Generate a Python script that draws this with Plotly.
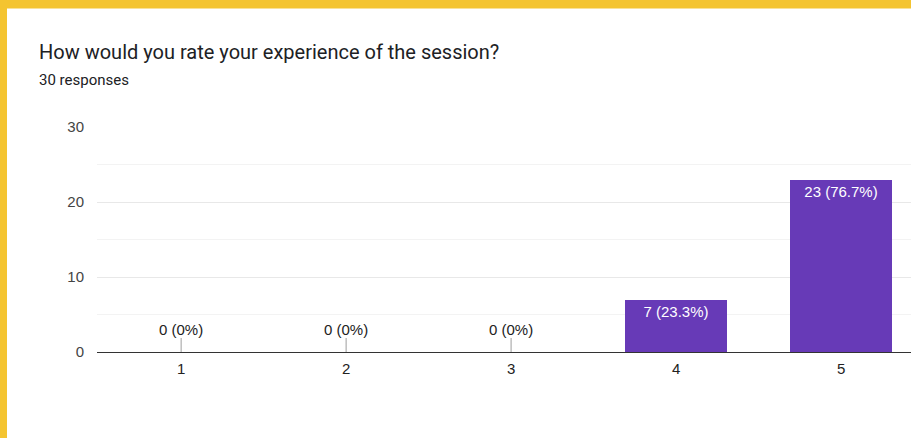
import plotly.graph_objects as go

categories = ["1", "2", "3", "4", "5"]
counts = [0, 0, 0, 7, 23]
total = 30
title_text = "How would you rate your experience of the session?"
subtitle_text = "30 responses"
y_ticks = [0, 10, 20, 30]

W, H = 911, 438
L, R, T, B = 97, 0, 127, 86
pw = W - L - R
ph = H - T - B

def px_x(p):
    return (p - L) / pw

def px_y(p):
    return (H - B - p) / ph

xs = [int(c) for c in categories]
labels = [f"{c} ({c / total * 100:.1f}%)".replace(".0%", "%") for c in counts]

fig = go.Figure()
fig.add_trace(go.Bar(
    x=xs, y=counts, width=0.62,
    marker=dict(color="#673AB7", line=dict(width=0)),
    text=[lab if c > 0 else "" for lab, c in zip(labels, counts)],
    textposition="inside", insidetextanchor="end",
    textfont=dict(color="white", size=15, family="Liberation Sans, Arial"),
    hoverinfo="skip",
))

annotations = []
for x, c, lab in zip(xs, counts, labels):
    if c == 0:
        annotations.append(dict(
            x=x, y=c, xref="x", yref="y", text=lab,
            showarrow=True, arrowhead=0, arrowwidth=1, arrowcolor="#9e9e9e",
            ax=0, ay=-23, standoff=0, startstandoff=0, borderpad=0,
            font=dict(size=15, color="#222222", family="Liberation Sans, Arial"),
        ))

annotations.append(dict(
    x=px_x(37), y=px_y(52), xref="paper", yref="paper", xanchor="left", yanchor="middle",
    text=title_text, showarrow=False,
    font=dict(size=20, color="#202124", family="Roboto"),
))
annotations.append(dict(
    x=px_x(37), y=px_y(80), xref="paper", yref="paper", xanchor="left", yanchor="middle",
    text=subtitle_text, showarrow=False,
    font=dict(size=15, color="#202124", family="Roboto"),
))

shapes = [
    dict(type="rect", xref="paper", yref="paper",
         x0=px_x(0), x1=px_x(7), y0=px_y(H), y1=px_y(0),
         fillcolor="#F4C430", line=dict(width=0), layer="above"),
    dict(type="rect", xref="paper", yref="paper",
         x0=px_x(0), x1=px_x(W), y0=px_y(8.5), y1=px_y(0),
         fillcolor="#F4C430", line=dict(width=0), layer="above"),
]

fig.update_layout(
    width=W, height=H,
    margin=dict(l=L, r=R, t=T, b=B, pad=0),
    paper_bgcolor="white", plot_bgcolor="white",
    showlegend=False,
    annotations=annotations,
    shapes=shapes,
    bargap=0,
)
fig.update_xaxes(
    range=[0.49, 5.424], tickvals=xs, ticktext=categories,
    showgrid=False, zeroline=False, showline=False,
    tickfont=dict(size=15, color="#222222", family="Liberation Sans, Arial"),
    ticks="", ticklabelstandoff=6, fixedrange=True,
)
fig.update_yaxes(
    range=[0, 30], tickvals=y_ticks,
    showgrid=True, gridcolor="#e8e8e8", gridwidth=1,
    minor=dict(dtick=5, showgrid=True, gridcolor="#f3f3f3", gridwidth=1),
    zeroline=True, zerolinecolor="#333333", zerolinewidth=1,
    showline=False,
    tickfont=dict(size=15, color="#444444", family="Liberation Sans, Arial"),
    ticks="", ticklabelstandoff=12, fixedrange=True,
)

fig.write_html(
    "out.html",
    config=dict(displayModeBar=False),
    post_script="document.body.style.margin='0';document.body.style.overflow='hidden';",
)
